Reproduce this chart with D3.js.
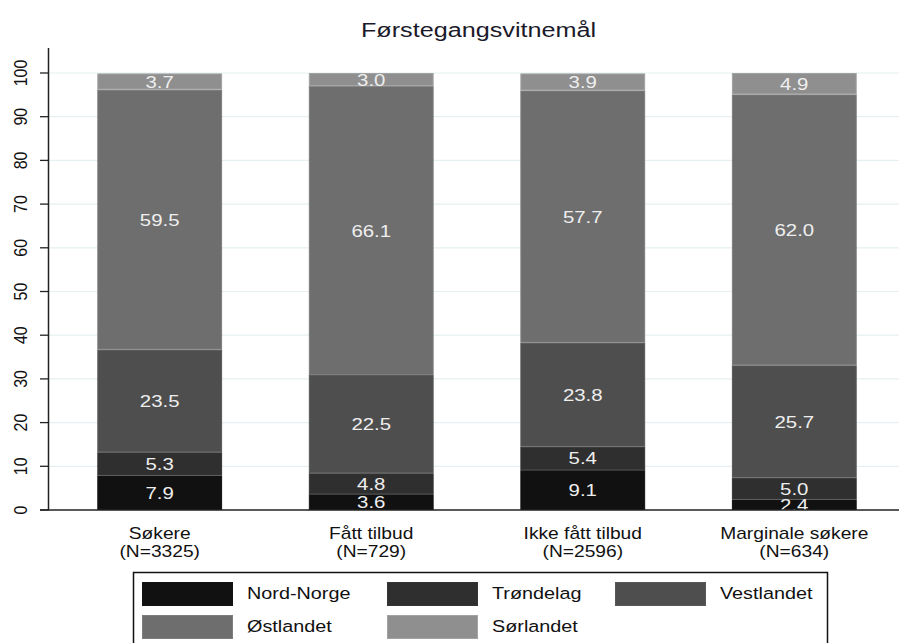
<!DOCTYPE html>
<html>
<head>
<meta charset="utf-8">
<script src="https://cdn.jsdelivr.net/npm/d3@7"></script>
<style>
  body { margin: 0; background: #fff; }
  svg { display: block; font-family: "Liberation Sans", Arial, sans-serif; }
</style>
</head>
<body>
<svg width="899" height="643"></svg>
<script>
var title = "Førstegangsvitnemål";
var groups = ["Søkere", "Fått tilbud", "Ikke fått tilbud", "Marginale søkere"];
var groupN = ["(N=3325)", "(N=729)", "(N=2596)", "(N=634)"];
var regions = ["Nord-Norge", "Trøndelag", "Vestlandet", "Østlandet", "Sørlandet"];
var colors = ["#111111", "#2f2f2f", "#4e4e4e", "#6e6e6e", "#8f8f8f"];
var nordNorge = [7.9, 3.6, 9.1, 2.4];
var trondelag = [5.3, 4.8, 5.4, 5.0];
var vestlandet = [23.5, 22.5, 23.8, 25.7];
var ostlandet = [59.5, 66.1, 57.7, 62.0];
var sorlandet = [3.7, 3.0, 3.9, 4.9];
var yTicks = [0, 10, 20, 30, 40, 50, 60, 70, 80, 90, 100];

var series = [nordNorge, trondelag, vestlandet, ostlandet, sorlandet];
var rows = groups.map(function(g, i) {
  var r = { group: g };
  regions.forEach(function(k, j) { r[k] = series[j][i]; });
  return r;
});

var stretch = 1.2; // text in the picture is drawn wide
var svg = d3.select("svg");

var x = d3.scaleBand().domain(groups).range([55, 899]).paddingInner(0.41).paddingOuter(0.2);
var y = d3.scaleLinear().domain([0, 100]).range([510, 73]);
var color = d3.scaleOrdinal().domain(regions).range(colors);

function label(sel, px, py, txt, size, extra) {
  return sel.append("g")
      .attr("transform", "translate(" + px + "," + py + ") scale(" + stretch + ",1)" + (extra || ""))
    .append("text")
      .attr("text-anchor", "middle")
      .style("font-size", size + "px")
      .text(txt);
}

// grid
svg.append("g").selectAll("line")
  .data(yTicks.slice(1))
  .enter().append("line")
    .attr("x1", 49).attr("x2", 899)
    .attr("y1", function(d) { return y(d); })
    .attr("y2", function(d) { return y(d); })
    .attr("stroke", "#e6eff1").attr("stroke-width", 1.2);

// bars
var stacked = d3.stack().keys(regions)(rows);
var layers = svg.append("g").selectAll("g")
  .data(stacked)
  .enter().append("g")
    .attr("fill", function(d) { return color(d.key); })
    .attr("stroke", function(d) { return d3.color(color(d.key)).brighter(0.35); });

layers.selectAll("rect")
  .data(function(d) { return d; })
  .enter().append("rect")
    .attr("x", function(d) { return x(d.data.group) + 0.5; })
    .attr("width", x.bandwidth() - 1)
    .attr("y", function(d) { return y(d[1]) + 0.5; })
    .attr("height", function(d) { return Math.max(0, y(d[0]) - y(d[1]) - 1); });

// value labels
var valG = svg.append("g").attr("fill", "#eeeeee");
stacked.forEach(function(layer) {
  layer.forEach(function(d) {
    var v = d[1] - d[0];
    label(valG, x(d.data.group) + x.bandwidth() / 2, (y(d[0]) + y(d[1])) / 2 + 6, v.toFixed(1), 17);
  });
});

// y axis
var axisG = svg.append("g").attr("stroke", "#222").attr("fill", "none");
axisG.append("line").attr("x1", 48.5).attr("x2", 48.5).attr("y1", 48).attr("y2", 510.5).attr("stroke-width", 1.5);
axisG.append("line").attr("x1", 40).attr("x2", 899).attr("y1", 510).attr("y2", 510).attr("stroke-width", 1.5);
axisG.selectAll(".tick")
  .data(yTicks)
  .enter().append("line")
    .attr("x1", 40).attr("x2", 48)
    .attr("y1", function(d) { return y(d); })
    .attr("y2", function(d) { return y(d); })
    .attr("stroke-width", 1.3);

var tickG = svg.append("g").attr("fill", "#111");
yTicks.forEach(function(t) {
  label(tickG, 26.5, y(t), String(t), 16, " rotate(-90)");
});

// x labels
var xlG = svg.append("g").attr("fill", "#111");
groups.forEach(function(g, i) {
  var cx = x(g) + x.bandwidth() / 2;
  label(xlG, cx, 539, g, 16);
  label(xlG, cx, 557, groupN[i], 16);
});

// title
label(svg.append("g").attr("fill", "#1a1a2a"), 478.5, 37, title, 21);

// legend
var legend = svg.append("g");
legend.append("rect")
  .attr("x", 133.5).attr("y", 572.5).attr("width", 694).attr("height", 80)
  .attr("fill", "#fff").attr("stroke", "#111").attr("stroke-width", 1.5);
var legCols = [142, 387, 615];
var legRows = [582, 615];
regions.forEach(function(k, i) {
  var cx = legCols[i % 3], cy = legRows[Math.floor(i / 3)];
  legend.append("rect")
    .attr("x", cx + 0.5).attr("y", cy + 0.5).attr("width", 90).attr("height", 23)
    .attr("fill", color(k)).attr("stroke", d3.color(color(k)).brighter(0.35));
  legend.append("g")
      .attr("transform", "translate(" + (cx + 105) + "," + (cy + 17) + ") scale(" + stretch + ",1)")
    .append("text")
      .attr("fill", "#111")
      .style("font-size", "16.5px")
      .text(k);
});
</script>
</body>
</html>
